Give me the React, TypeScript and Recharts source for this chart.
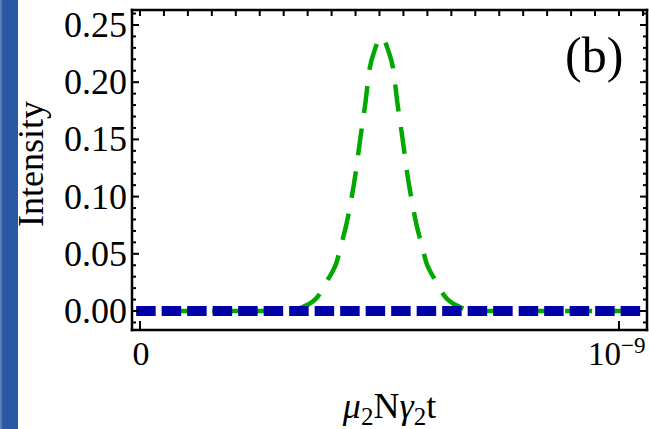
import React from "react";
import { LineChart, Line, XAxis, YAxis } from "recharts";

// ---- data ----
const greenX = [
  -0.008, 0.3, 0.32, 0.34, 0.36, 0.37, 0.38, 0.39, 0.4, 0.41, 0.42, 0.43, 0.44,
  0.45, 0.46, 0.47, 0.48, 0.49, 0.497, 0.504, 0.511, 0.518, 0.528, 0.538, 0.548,
  0.558, 0.568, 0.578, 0.588, 0.598, 0.608, 0.618, 0.628, 0.638, 0.648, 0.668,
  0.688, 0.708, 1.05,
];
const greenY = [
  0, 0, 0.001, 0.0035, 0.008, 0.012, 0.018, 0.026, 0.033, 0.042, 0.058, 0.074,
  0.095, 0.12, 0.151, 0.18, 0.213, 0.228, 0.236, 0.2395, 0.236, 0.228, 0.213,
  0.18, 0.151, 0.12, 0.095, 0.074, 0.058, 0.042, 0.033, 0.026, 0.018, 0.012,
  0.008, 0.0035, 0.001, 0, 0,
];
const blueX = [-0.008, 1.05];
const blueY = [0, 0];

const yTicks = [
  -0.01, 0, 0.01, 0.02, 0.03, 0.04, 0.05, 0.06, 0.07, 0.08, 0.09, 0.1, 0.11,
  0.12, 0.13, 0.14, 0.15, 0.16, 0.17, 0.18, 0.19, 0.2, 0.21, 0.22, 0.23, 0.24,
  0.25, 0.26,
];
const xTopTicks = [
  0, 0.05, 0.1, 0.15, 0.2, 0.25, 0.3, 0.35, 0.4, 0.45, 0.5, 0.55, 0.6, 0.65,
  0.7, 0.75, 0.8, 0.85, 0.9, 0.95, 1.0, 1.05,
];
const xBottomTicks = [0, 1];
const xBottomTickBase = ["0", "10"];
const xBottomTickExp = ["", "\u22129"];

const greenData = greenX.map((x, i) => ({ x, v: greenY[i] }));
const blueData = blueX.map((x, i) => ({ x, v: blueY[i] }));

const FONT = "'Liberation Serif', 'Times New Roman', serif";
const INK = "#000";

const isMajorY = (v: number) => Math.round(v * 100) % 5 === 0;

const LeftTick = (props: any) => {
  const { x, y, payload } = props;
  const v = payload.value as number;
  const major = isMajorY(v);
  return (
    <g>
      <line x1={x} x2={x + (major ? 7 : 4)} y1={y} y2={y} stroke={INK} strokeWidth={2} />
      {major && (
        <text x={x - 5} y={y} dy={12} textAnchor="end" fontSize={36} fontFamily={FONT} fill={INK}>
          {Math.abs(v).toFixed(2)}
        </text>
      )}
    </g>
  );
};

const RightTick = (props: any) => {
  const { x, y, payload } = props;
  const major = isMajorY(payload.value);
  return <line x1={x} x2={x - (major ? 7 : 4)} y1={y} y2={y} stroke={INK} strokeWidth={2} />;
};

const TopTick = (props: any) => {
  const { x, y } = props;
  return <line x1={x} x2={x} y1={y} y2={y + 6} stroke={INK} strokeWidth={2} />;
};

const BottomTick = (props: any) => {
  const { x, y, payload } = props;
  const i = xBottomTicks.indexOf(payload.value);
  const base = xBottomTickBase[i] ?? "";
  const exp = xBottomTickExp[i] ?? "";
  return (
    <g>
      <line x1={x} x2={x} y1={y} y2={y - 9} stroke={INK} strokeWidth={2} />
      {exp ? (
        <text x={x - 31} y={y + 35} textAnchor="start" fontSize={33} fontFamily={FONT} fill={INK}>
          <tspan>{base}</tspan>
          <tspan dy={-12} fontSize={23}>
            {exp}
          </tspan>
        </text>
      ) : (
        <text x={x + 1} y={y + 35} textAnchor="middle" fontSize={34} fontFamily={FONT} fill={INK}>
          {base}
        </text>
      )}
    </g>
  );
};

const XLabel = (props: any) => {
  const vb = props.viewBox || { x: 132, y: 330, width: 515, height: 99 };
  const cx = vb.x + vb.width / 2;
  return (
    <text x={cx} y={vb.y + 88} textAnchor="middle" fontSize={36} fontFamily={FONT} fill={INK}>
      <tspan fontStyle="italic">μ</tspan>
      <tspan fontSize={25} dy={7}>2</tspan>
      <tspan dy={-7}>N</tspan>
      <tspan fontStyle="italic">γ</tspan>
      <tspan fontSize={25} dy={7}>2</tspan>
      <tspan dy={-7}>t</tspan>
    </text>
  );
};

const YLabel = (props: any) => {
  const vb = props.viewBox || { x: 0, y: 10, width: 132, height: 320 };
  const lx = vb.x + 43;
  const ly = vb.y + vb.height / 2 - 6;
  return (
    <text
      x={lx}
      y={ly}
      transform={`rotate(-90, ${lx}, ${ly})`}
      textAnchor="middle"
      fontSize={36}
      fontFamily={FONT}
      fill={INK}
    >
      Intensity
    </text>
  );
};

const frameLine = { stroke: INK, strokeWidth: 2.5, strokeLinecap: "square" as const };

export default function App() {
  return (
    <div style={{ position: "absolute", left: 0, top: 0, width: 649, height: 429, background: "#fff", overflow: "hidden" }}>
      <LineChart width={649} height={429} data={greenData} margin={{ top: 0, right: 1, bottom: 0, left: 0 }}>
        <XAxis
          xAxisId="bottom"
          type="number"
          dataKey="x"
          orientation="bottom"
          domain={[-0.0167, 1.0585]}
          allowDataOverflow
          ticks={xBottomTicks}
          interval={0}
          tickSize={0}
          tickMargin={0}
          tickLine={false}
          axisLine={frameLine}
          tick={<BottomTick />}
          height={99}
          label={XLabel}
        />
        <XAxis
          xAxisId="top"
          type="number"
          dataKey="x"
          orientation="top"
          domain={[-0.0167, 1.0585]}
          allowDataOverflow
          ticks={xTopTicks}
          interval={0}
          tickSize={0}
          tickMargin={0}
          tickLine={false}
          axisLine={frameLine}
          tick={<TopTick />}
          height={10}
        />
        <YAxis
          yAxisId="left"
          type="number"
          orientation="left"
          domain={[-0.0166, 0.2631]}
          allowDataOverflow
          ticks={yTicks}
          interval={0}
          tickSize={0}
          tickMargin={0}
          tickLine={false}
          axisLine={frameLine}
          tick={<LeftTick />}
          width={132}
          label={YLabel}
        />
        <YAxis
          yAxisId="right"
          type="number"
          orientation="right"
          domain={[-0.0166, 0.2631]}
          allowDataOverflow
          ticks={yTicks}
          interval={0}
          tickSize={0}
          tickMargin={0}
          tickLine={false}
          axisLine={frameLine}
          tick={<RightTick />}
          width={1}
        />
        <Line
          xAxisId="bottom"
          yAxisId="left"
          data={greenData}
          dataKey="v"
          type="monotone"
          stroke="#00a800"
          strokeWidth={4.5}
          strokeDasharray="27 16"
          strokeDashoffset={10}
          dot={false}
          activeDot={false}
          isAnimationActive={false}
        />
        <Line
          xAxisId="bottom"
          yAxisId="left"
          data={blueData}
          dataKey="v"
          type="linear"
          stroke="#0000a8"
          strokeWidth={10}
          strokeDasharray="19.5 6"
          dot={false}
          activeDot={false}
          isAnimationActive={false}
        />
      </LineChart>
      <div
        style={{
          position: "absolute",
          left: 0,
          top: 0,
          width: 18,
          height: 429,
          background: "linear-gradient(to right, #6a8cc4 0px, #2b58a3 3px, #2b58a3 100%)",
        }}
      />
      <div
        style={{
          position: "absolute",
          left: 565,
          top: 22,
          fontFamily: FONT,
          fontSize: 50,
          lineHeight: "66px",
          color: INK,
          whiteSpace: "nowrap",
        }}
      >
        (b)
      </div>
    </div>
  );
}
